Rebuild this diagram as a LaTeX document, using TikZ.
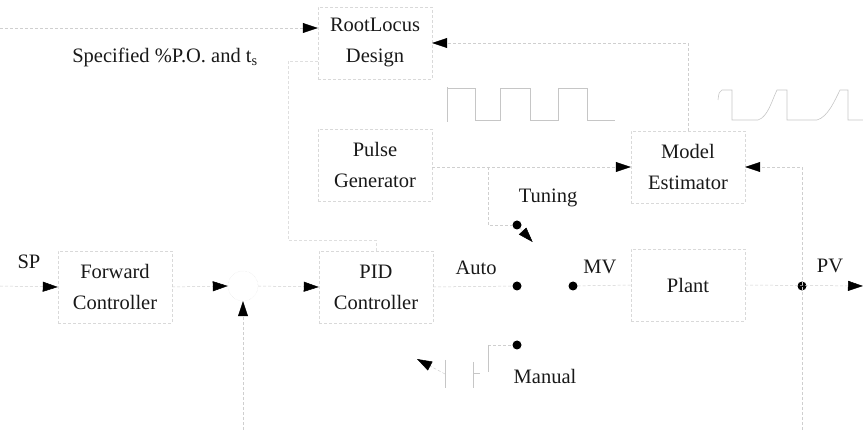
\documentclass[tikz,border=0pt]{standalone}
\usepackage{fontspec}
\setmainfont{Liberation Serif}
\usetikzlibrary{calc, positioning}
\usetikzlibrary{arrows.meta}

\begin{document}
\begin{tikzpicture}[x=1pt,y=-1pt,
	block/.style={draw=gray!30,densely dashed,minimum width=114pt,minimum height=72pt,inner sep=0pt,align=center,text=black!90,font=\fontsize{20.5}{31}\selectfont},
	wire/.style={gray!38,densely dashed,line width=0.5pt},
	sig/.style={wire,-{Triangle[length=15pt,width=10pt,color=black]}},
	wave/.style={gray!45,line width=0.6pt},
	dot/.style={circle,fill=black,inner sep=0pt,minimum size=9pt},
	lbl/.style={text=black!90,font=\fontsize{20.5}{24}\selectfont}]
	\useasboundingbox (0,0) rectangle (863,430);
	
	% blocks
	\node[block] (rl) at (375,43) {RootLocus\\Design};
	\node[block] (pg) at (375,165) {Pulse\\Generator};
	\node[block] (me) at (688,167) {Model\\Estimator};
	\node[block] (fc) at (115,287) {Forward\\Controller};
	\node[block] (pid) at (376,287) {PID\\Controller};
	\node[block] (plant) at (688,285) {Plant};
	\node[circle,draw=gray!25,densely dotted,minimum size=30pt] (sum) at (243,286) {};
	
	% switch contacts
	\node[dot] (tun) at (517,225) {};
	\node[dot] (auto) at (517,286) {};
	\node[dot] (man) at (517,345) {};
	\node[dot] (mv) at (573,286) {};
	\node[dot] (pvdot) at (802,286) {};
	
	% labels
	\node[lbl] (spec) at (165,57) {Specified \%P.O. and t\textsubscript{s}};
	\node[lbl] (splbl) at (29,262) {SP};
	\node[lbl] (pvlbl) at (830,266) {PV};
	\node[lbl] (autolbl) at (476,268) {Auto};
	\node[lbl] (mvlbl) at (600,267) {MV};
	\node[lbl] (tunlbl) at (548,198) {Tuning};
	\node[lbl] (manlbl) at (545,376) {Manual};
	
	\coordinate (spin) at (0,28);
	\coordinate (sp) at (0,286);
	\coordinate (pvout) at (863,286);
	\coordinate (fbl) at (243,430);
	\coordinate (fbr) at (802,430);
	\coordinate (tap) at (488,167);
	\coordinate (bend) at (288,240);
	\coordinate (mstep) at (488,345);
	\coordinate (mtail) at (445,374);
	\coordinate (mtip) at (417,359);
	
	% connections
	\draw[sig] (spin) -- (spin -| rl.west);
	\draw[sig] (me.north) |- (rl.east);
	\draw[wire,gray!25] ([yshift=-18pt]rl.west) -| (bend) -| (pid.north);
	\draw[sig] (pg.east |- me.west) -- (me.west);
	\draw[wire] (tap) |- (tun);
	\draw[sig] (tun) -- ($(tun)!0.28!(mv)$);
	\draw[sig] (sp) -- (fc.west);
	\draw[sig] (fc.east) -- (sum.west);
	\draw[sig] (sum.east) -- (pid.west);
	\draw[sig] (fbl) -- (sum.south);
	\draw[wire] (pid.east) -- (auto);
	\draw[wire] (mv) -- (plant.west);
	\draw[sig] (plant.east) -- (pvout);
	\draw[sig] (fbr) |- (me.east);
	\draw[wire] (mstep) -- (man);
	\draw[sig] (mtail) -- (mtip);
	
	% pulse and response sketches
	\draw[wave] (447,122) -- (447,87);
	\draw[wave] (447,88) -- (475,88) -- (475,120) -- (500,120) -- (500,88) -- (530,88) -- (530,120)
		-- (558,120) -- (558,88) -- (587,88) -- (587,120) -- (615,120);
	\draw[wave] (718,100) .. controls (719,92) .. (722,90) -- (732,90) -- (732,120) -- (758,120)
		.. controls (768,117) and (772,100) .. (777,90) -- (787,90) -- (787,120) -- (817,120)
		.. controls (828,117) and (835,100) .. (840,90) -- (848,90) -- (848,120) -- (863,120);
	\draw[wave] (445,360) -- (445,388);
	\draw[wave] (473,362) -- (473,388);
	\draw[wave] (473,373) -- (480,373);
	\draw[wave] (488,345) -- (488,372);
\end{tikzpicture}
\end{document}
